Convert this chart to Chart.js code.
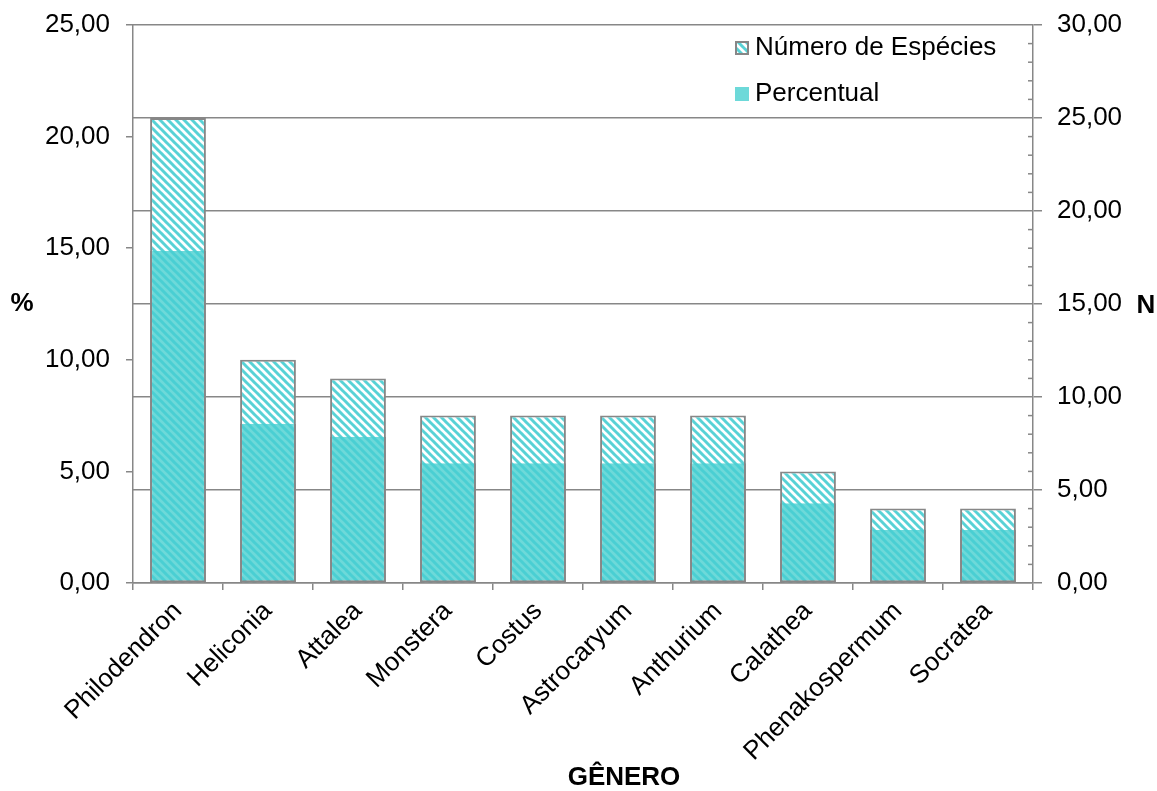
<!DOCTYPE html>
<html>
<head>
<meta charset="utf-8">
<script src="https://cdn.jsdelivr.net/npm/chart.js@4.4.1/dist/chart.umd.min.js"></script>
<style>
  html, body { margin: 0; padding: 0; background: #fff; }
  #wrap { position: relative; width: 1157px; height: 791px; }
</style>
</head>
<body>
<div id="wrap"><canvas id="grafico"></canvas></div>
<script>
// gêneros e valores
const generos = ["Philodendron", "Heliconia", "Attalea", "Monstera", "Costus",
  "Astrocaryum", "Anthurium", "Calathea", "Phenakospermum", "Socratea"];
const numeroEspecies = [25, 12, 11, 9, 9, 9, 9, 6, 4, 4];
const percentual = [14.88, 7.14, 6.55, 5.36, 5.36, 5.36, 5.36, 3.57, 2.38, 2.38];
const ticksPercentual = [0, 5, 10, 15, 20, 25];
const ticksN = [0, 5, 10, 15, 20, 25, 30];

const FONTE = "'Liberation Sans', Arial, sans-serif";
const CINZA = "#878787";
const TURQUESA = "#6dd9d9";
const LISTRA = "rgba(70, 205, 210, 0.9)";

// hachura diagonal sobre um fundo
function hachura(cor, fundo) {
  const c = document.createElement("canvas");
  c.width = 8; c.height = 8;
  const g = c.getContext("2d");
  g.fillStyle = fundo;
  g.fillRect(0, 0, 8, 8);
  g.strokeStyle = cor;
  g.lineWidth = 3;
  for (const k of [-8, 0, 8]) {
    g.beginPath();
    g.moveTo(k - 1, -1);
    g.lineTo(k + 9, 9);
    g.stroke();
  }
  return g.createPattern(c, "repeat");
}

const fmt = v => v.toFixed(2).replace(".", ",");

const ctx = document.getElementById("grafico").getContext("2d");
const padraoN = hachura(LISTRA, "#fff");
const padraoP = hachura(LISTRA, TURQUESA);

// eixos verticais com largura fixa e sem folga extra em cima
const larguraFixa = w => s => {
  s.width = w;
  s.paddingTop = 0;
  s.paddingBottom = 0;
};

// legenda, títulos dos eixos e tiques menores
const extras = {
  id: "extras",
  afterDraw(chart) {
    const c = chart.ctx;
    const a = chart.chartArea;
    const yN = chart.scales.yN;
    c.save();

    // tiques menores do eixo N
    c.strokeStyle = CINZA;
    c.lineWidth = 1.5;
    for (let v = 1; v < 30; v++) {
      if (v % 5 === 0) continue;
      const y = yN.getPixelForValue(v);
      c.beginPath();
      c.moveTo(a.right - 5, y);
      c.lineTo(a.right, y);
      c.stroke();
    }

    // legenda
    const lx = a.right - 298;
    c.font = "26px " + FONTE;
    c.textBaseline = "middle";
    c.fillStyle = padraoN;
    c.fillRect(lx, a.top + 16, 14, 14);
    c.strokeStyle = CINZA;
    c.lineWidth = 2;
    c.strokeRect(lx + 1, a.top + 17, 12, 12);
    c.fillStyle = "#000";
    c.fillText("Número de Espécies", lx + 20, a.top + 23);
    c.fillStyle = TURQUESA;
    c.fillRect(lx, a.top + 62, 14, 14);
    c.fillStyle = "#000";
    c.fillText("Percentual", lx + 20, a.top + 69);

    // títulos dos eixos
    c.font = "bold 26px " + FONTE;
    c.textAlign = "center";
    const meio = (a.top + a.bottom) / 2;
    c.fillText("%", 22, meio);
    c.fillText("N", 1146, meio + 2);
    c.fillText("GÊNERO", 624, 778);
    c.restore();
  }
};

new Chart(ctx, {
  type: "bar",
  data: {
    labels: generos,
    datasets: [
      {
        label: "Número de Espécies",
        data: numeroEspecies,
        yAxisID: "yN",
        backgroundColor: padraoN,
        borderColor: CINZA,
        borderWidth: 2,
        order: 1
      },
      {
        // desenhada por cima, só com as bordas laterais
        label: "Percentual",
        data: percentual,
        yAxisID: "yP",
        backgroundColor: padraoP,
        borderColor: CINZA,
        borderWidth: 2,
        borderSkipped: "top",
        order: 0
      }
    ]
  },
  options: {
    responsive: true,
    maintainAspectRatio: false,
    animation: false,
    events: [],
    layout: { padding: { top: 25, left: 0, right: 0, bottom: 0 } },
    datasets: {
      bar: { grouped: false, categoryPercentage: 1, barPercentage: 0.62 }
    },
    plugins: {
      legend: { display: false },
      tooltip: { enabled: false },
      title: { display: false }
    },
    scales: {
      x: {
        offset: true,
        grid: { offset: true, drawOnChartArea: false, color: CINZA, lineWidth: 1.5, tickLength: 7 },
        border: { display: true, color: CINZA, width: 1.5 },
        ticks: {
          color: "#000",
          font: { family: FONTE, size: 26 },
          maxRotation: 45, minRotation: 45,
          padding: 6,
          autoSkip: false
        },
        afterFit: s => { s.height = 208; }
      },
      yP: {
        position: "left",
        min: 0, max: 25,
        afterBuildTicks: s => { s.ticks = ticksPercentual.map(v => ({ value: v })); },
        grid: { drawOnChartArea: false, color: CINZA, lineWidth: 1.5, tickLength: 7 },
        border: { display: true, color: CINZA, width: 1.5 },
        ticks: { color: "#000", font: { family: FONTE, size: 26 }, padding: 16, callback: v => fmt(v) },
        afterFit: larguraFixa(133)
      },
      yN: {
        position: "right",
        min: 0, max: 30,
        afterBuildTicks: s => { s.ticks = ticksN.map(v => ({ value: v })); },
        grid: { drawOnChartArea: true, color: CINZA, lineWidth: 1.5, tickLength: 9 },
        border: { display: true, color: CINZA, width: 1.5 },
        ticks: { color: "#000", font: { family: FONTE, size: 26 }, padding: 15, callback: v => fmt(v) },
        afterFit: larguraFixa(124)
      }
    }
  },
  plugins: [extras]
});
</script>
</body>
</html>
